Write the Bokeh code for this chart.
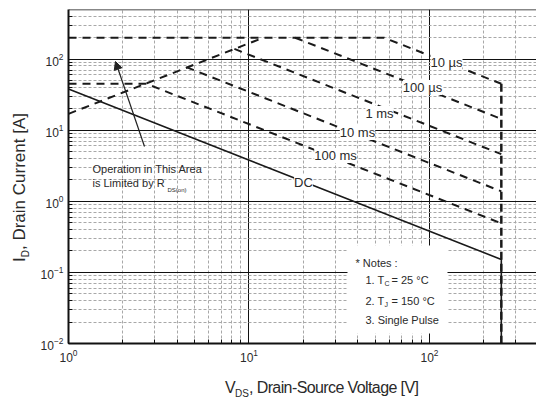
import math
from bokeh.plotting import figure
from bokeh.models import Label, Arrow, NormalHead, Span, Div
from bokeh.layouts import column, row
from bokeh.embed import file_html
from bokeh.resources import INLINE

# ---- data (V in volts, I in amps) ----
rds_v = [1.0, 12.0]
rds_i = [17.0, 200.0]
us10_v = [1.0, 56.0, 250.0]
us10_i = [200.0, 200.0, 45.0]
us100_v = [18.0, 250.0]
us100_i = [200.0, 14.4]
ms1_v = [8.3, 250.0]
ms1_i = [139.0, 4.6]
ms10_v = [4.5, 250.0]
ms10_i = [77.0, 1.38]
ms100_v = [1.0, 2.7, 250.0]
ms100_i = [45.0, 45.0, 0.49]
dc_v = [1.0, 250.0, 250.0]
dc_i = [38.0, 0.152, 0.01]
bv_v = [250.0, 250.0]
bv_i = [45.0, 0.01]

curve_names = ["10 µs", "100 µs", "1 ms", "10 ms", "100 ms", "DC"]

# ---- layout helpers (page pixel -> data coordinates, for annotations) ----
FONT = "Liberation Sans"
TXT = "#2a2a2a"


def xd(px):
    return 10 ** ((px - 68.0) / 180.5)


def yd(py):
    return 10 ** (2 - (py - 58.6) / 71.1)


YDIV_W = 32
FIG_W = 536 - YDIV_W
FIG_H = 369
p = figure(width=FIG_W, height=FIG_H, x_axis_type="log", y_axis_type="log",
           x_range=(1, 391.6), y_range=(0.01, 498.6),
           output_backend="svg", toolbar_location=None,
           min_border_left=68 - YDIV_W, min_border_right=0, min_border_top=9,
           min_border_bottom=FIG_H - 9 - 334, margin=0)
p.outline_line_color = None
p.background_fill_color = "white"
p.border_fill_color = "white"

for g in (p.xgrid, p.ygrid):
    g.grid_line_color = "#111111"
    g.grid_line_width = 1
    g.minor_grid_line_color = "#a8a8a8"
    g.minor_grid_line_dash = "3 2"
    g.minor_grid_line_width = 1

for ax in (p.xaxis, p.yaxis):
    ax.axis_line_width = 2
    ax.axis_line_color = "#111111"
    ax.major_tick_in = 7
    ax.major_tick_out = 0
    ax.minor_tick_in = 4
    ax.minor_tick_out = 0
    ax.major_tick_line_color = "#111111"
    ax.minor_tick_line_color = "#111111"
    ax.major_label_text_font = FONT
    ax.major_label_text_font_size = "12px"
    ax.major_label_text_color = TXT
    ax.major_label_standoff = 5

p.add_layout(Span(location=498.6, dimension="width", line_color="#111111", line_width=1.5))

# white box behind the notes
p.quad(left=[xd(347)], right=[xd(447)], bottom=[yd(333)], top=[yd(245)],
       fill_color="white", line_color=None)

dash = "8 6"
lc = "#1a1a1a"
p.line(rds_v, rds_i, line_color=lc, line_width=2, line_dash=dash)
p.line(us10_v, us10_i, line_color=lc, line_width=2, line_dash=dash)
p.line(us100_v, us100_i, line_color=lc, line_width=2, line_dash=dash)
p.line(ms1_v, ms1_i, line_color=lc, line_width=2, line_dash=dash)
p.line(ms10_v, ms10_i, line_color=lc, line_width=2, line_dash=dash)
p.line(ms100_v, ms100_i, line_color=lc, line_width=2, line_dash=dash)
p.line(bv_v, bv_i, line_color=lc, line_width=2.5, line_dash="8 4")
p.line(dc_v, dc_i, line_color=lc, line_width=1.6)

# curve labels (page-pixel centres)
label_px = [(446, 62), (422, 87), (379, 113), (357, 132), (335, 155), (303, 182)]
for name, (px, py) in zip(curve_names, label_px):
    p.add_layout(Label(x=xd(px), y=yd(py), text=name, text_align="center",
                       text_baseline="middle", text_font=FONT,
                       text_font_size="13px", text_color=TXT,
                       background_fill_color="white"))

# R_DS(on) annotation
p.add_layout(Arrow(x_start=xd(144), y_start=yd(146), x_end=xd(115), y_end=yd(61),
                   line_color="#222222", line_width=1.2,
                   end=NormalHead(size=8, fill_color="#222222", line_color="#222222")))
p.add_layout(Label(x=xd(92), y=yd(168), text="Operation in This Area",
                   text_baseline="middle", text_font=FONT, text_font_size="11px",
                   text_color=TXT))
p.add_layout(Label(x=xd(92), y=yd(182), text="is Limited by R",
                   text_baseline="middle", text_font=FONT, text_font_size="11px",
                   text_color=TXT))
p.add_layout(Label(x=xd(167), y=yd(189), text="DS(on)",
                   text_baseline="middle", text_font=FONT, text_font_size="6px",
                   text_color=TXT))


# notes
def note(px, py, text, size="11px"):
    p.add_layout(Label(x=xd(px), y=yd(py), text=text, text_baseline="middle",
                       text_font=FONT, text_font_size=size, text_color=TXT))


note(355, 262, "* Notes :")
note(365, 279, "1. T")
note(384, 283, "C", "7px")
note(391, 279, "= 25 °C")
note(365, 300, "2. T")
note(384, 304, "J", "7px")
note(391, 300, "= 150 °C")
note(365, 319, "3. Single Pulse")

# axis titles (HTML, for the subscripts)
BASE = "white-space:nowrap;font-family:'Liberation Sans',Arial,sans-serif;color:%s;" % TXT
SUB_STYLE = "font-size:10px;position:relative;top:4px;letter-spacing:0;"

ydiv = Div(width=YDIV_W, height=FIG_H, margin=0, text=(
    '<div style="position:relative;width:%dpx;height:%dpx;">'
    '<div style="position:absolute;left:9.6px;top:262px;transform:rotate(-90deg);'
    'transform-origin:0 0;font-size:17px;line-height:19px;%s">I<span style="%s">D</span>'
    ', Drain Current [A]</div></div>') % (YDIV_W, FIG_H, BASE, SUB_STYLE))

XDIV_H = 399 - FIG_H
xdiv = Div(width=536, height=XDIV_H, margin=0, text=(
    '<div style="position:relative;width:536px;height:%dpx;">'
    '<div style="position:absolute;left:225px;top:9.5px;font-size:16px;line-height:18px;'
    'letter-spacing:-0.6px;%s">V<span style="%s">DS</span>'
    ', Drain-Source Voltage [V]</div></div>') % (XDIV_H, BASE, SUB_STYLE))

layout = column(row(ydiv, p, spacing=0), xdiv, spacing=0)

open("out.html", "w").write(file_html(layout, INLINE))
